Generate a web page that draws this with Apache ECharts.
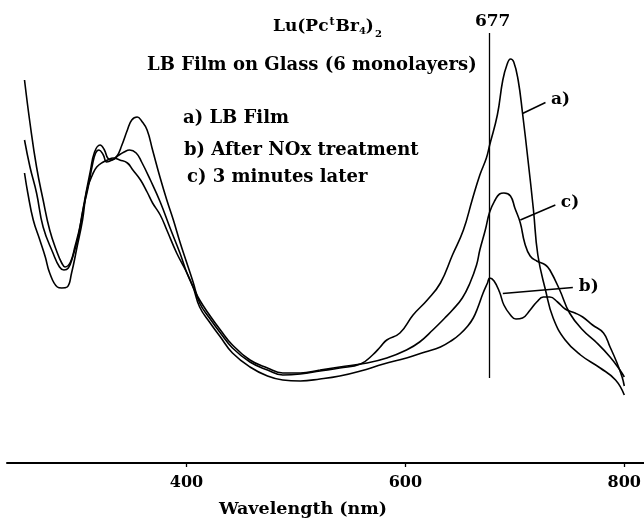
<html>
<head>
    <meta charset="utf-8">
    <title>Lu(PctBr4)2 LB film spectra</title>
    <style type="text/css">
        body { margin: 0; background: #fff; }
        #chart { width: 644px; height: 519px; }
    </style>
</head>
<body>
    <div id="chart"></div>
</body>
</html>

<script src="https://cdn.jsdelivr.net/npm/echarts@6/dist/echarts.min.js"></script>
<script>

    // [wavelength nm, absorbance]
    var lbFilm = [
        [252, 0.766], [257, 0.680], [263, 0.592], [269, 0.526], [275, 0.466], [282, 0.420],
        [286, 0.400], [289, 0.392], [294, 0.402], [298, 0.432], [303, 0.476], [307, 0.526],
        [312, 0.582], [316, 0.622], [321, 0.636], [325, 0.626], [328, 0.610], [331, 0.606],
        [336, 0.612], [341, 0.636], [346, 0.666], [350, 0.686], [355, 0.692], [359, 0.684],
        [364, 0.666], [369, 0.626], [376, 0.570], [382, 0.526], [388, 0.486], [394, 0.442],
        [400, 0.402], [406, 0.362], [412, 0.320], [421, 0.290], [431, 0.260], [442, 0.230],
        [458, 0.202], [474, 0.186], [488, 0.176], [504, 0.178], [522, 0.184], [540, 0.190],
        [559, 0.198], [570, 0.216], [577, 0.232], [583, 0.246], [595, 0.260], [607, 0.296],
        [620, 0.326], [632, 0.360], [643, 0.416], [653, 0.466], [661, 0.526], [668, 0.576],
        [674, 0.610], [677, 0.636], [684, 0.696], [689, 0.766], [693, 0.798], [696, 0.808],
        [699, 0.802], [703, 0.766], [707, 0.700], [712, 0.606], [717, 0.506], [721, 0.416],
        [728, 0.346], [735, 0.290], [746, 0.246], [760, 0.216], [778, 0.190], [792, 0.166],
        [800, 0.136]
    ];

    var afterNOx = [
        [252, 0.580], [255, 0.540], [260, 0.486], [266, 0.446], [271, 0.412], [275, 0.380],
        [282, 0.352], [286, 0.350], [291, 0.352], [295, 0.380], [300, 0.432], [305, 0.486],
        [309, 0.546], [314, 0.576], [318, 0.592], [324, 0.602], [328, 0.606], [333, 0.610],
        [339, 0.606], [346, 0.600], [351, 0.586], [358, 0.566], [364, 0.542], [369, 0.520],
        [376, 0.496], [382, 0.466], [391, 0.420], [400, 0.382], [406, 0.352], [412, 0.312],
        [421, 0.282], [431, 0.252], [442, 0.220], [458, 0.192], [474, 0.174], [488, 0.166],
        [504, 0.164], [522, 0.168], [540, 0.174], [559, 0.184], [580, 0.198], [601, 0.210],
        [618, 0.222], [632, 0.232], [643, 0.246], [650, 0.258], [657, 0.274], [662, 0.290],
        [666, 0.310], [671, 0.340], [675, 0.360], [677, 0.370], [681, 0.364], [686, 0.342],
        [690, 0.316], [696, 0.296], [701, 0.288], [707, 0.290], [714, 0.306], [720, 0.322],
        [726, 0.332], [732, 0.332], [739, 0.322], [746, 0.308], [755, 0.300], [762, 0.292],
        [771, 0.276], [781, 0.260], [787, 0.232], [793, 0.202], [798, 0.172], [800, 0.154]
    ];

    var threeMinLater = [
        [252, 0.646], [257, 0.592], [263, 0.540], [269, 0.472], [278, 0.420], [284, 0.392],
        [288, 0.386], [292, 0.390], [296, 0.412], [301, 0.452], [305, 0.502], [310, 0.550],
        [314, 0.596], [317, 0.620], [320, 0.626], [324, 0.616], [327, 0.602], [332, 0.606],
        [337, 0.614], [343, 0.622], [348, 0.626], [354, 0.620], [359, 0.602], [367, 0.566],
        [376, 0.522], [385, 0.470], [394, 0.420], [400, 0.382], [406, 0.352], [412, 0.326],
        [421, 0.296], [431, 0.266], [442, 0.236], [458, 0.206], [474, 0.190], [488, 0.180],
        [504, 0.180], [522, 0.186], [540, 0.192], [565, 0.200], [583, 0.210], [601, 0.226],
        [613, 0.242], [625, 0.266], [636, 0.290], [643, 0.306], [652, 0.330], [659, 0.360],
        [665, 0.396], [668, 0.426], [673, 0.466], [677, 0.502], [682, 0.526], [686, 0.538],
        [690, 0.540], [696, 0.534], [700, 0.510], [705, 0.480], [709, 0.440], [714, 0.414],
        [720, 0.404], [728, 0.396], [732, 0.386], [741, 0.346], [750, 0.300], [762, 0.266],
        [775, 0.240], [787, 0.212], [796, 0.186], [800, 0.172]
    ];

    var tickValues = [400, 600, 800];
    var markerNm = 677;
    var markerSpan = [0.17, 0.86];

    // label leader lines: [from, to] in data units
    var leaderA = [[707, 0.699], [728, 0.721]];
    var leaderB = [[689, 0.339], [753, 0.351]];
    var leaderC = [[705, 0.486], [737, 0.516]];

    var FONT = 'DejaVu Serif';
    var TEXT_FONT = 'bold 18px "DejaVu Serif"';

    function leader(pts, text) {
        return {
            silent: true,
            symbol: ['none', 'none'],
            lineStyle: { color: '#000', width: 1.5, type: 'solid' },
            label: {
                show: true, position: 'end', distance: 6, formatter: text,
                color: '#000', fontFamily: FONT, fontWeight: 'bold', fontSize: 17
            },
            data: [[{ coord: pts[0] }, { coord: pts[1] }]]
        };
    }

    function spectrum(data, extra) {
        var s = {
            type: 'line',
            data: data,
            smooth: 0.45,
            showSymbol: false,
            symbol: 'none',
            lineStyle: { color: '#000', width: 1.6 },
            z: 3
        };
        if (extra) s.markLine = extra;
        return s;
    }

    var chart = echarts.init(document.getElementById('chart'));

    var markerLine = {
        silent: true,
        symbol: ['none', 'none'],
        lineStyle: { color: '#000', width: 1.3, type: 'solid' },
        label: {
            show: true, position: 'end', distance: 3, offset: [3, 0], formatter: String(markerNm),
            color: '#000', fontFamily: FONT, fontWeight: 'bold', fontSize: 17
        },
        data: [[{ coord: [markerNm, markerSpan[0]] }, { coord: [markerNm, markerSpan[1]] }]]
    };

    var option = {
        animation: false,
        backgroundColor: '#fff',
        grid: { left: 7, right: 0, top: 13, bottom: 56 },
        xAxis: {
            type: 'value',
            min: 236,
            max: 818,
            axisLine: { show: true, lineStyle: { color: '#000', width: 2 } },
            axisTick: { show: true, length: 4, customValues: tickValues, lineStyle: { color: '#000', width: 1.3 } },
            axisLabel: {
                customValues: tickValues, margin: 12,
                color: '#000', fontFamily: FONT, fontWeight: 'bold', fontSize: 16
            },
            splitLine: { show: false }
        },
        yAxis: {
            type: 'value', min: 0, max: 0.9, show: false
        },
        series: [
            spectrum(lbFilm, leader(leaderA, 'a)')),
            spectrum(afterNOx, leader(leaderB, 'b)')),
            spectrum(threeMinLater, leader(leaderC, 'c)')),
            { type: 'line', data: [], markLine: markerLine }
        ],
        graphic: [
            {
                type: 'text', x: 273, y: 27,
                style: {
                    text: '{m|Lu(Pc}{sup|t}{m|Br}{sub|4}{m|)}{sub2|2}',
                    verticalAlign: 'middle',
                    rich: {
                        m: { fontFamily: FONT, fontWeight: 'bold', fontSize: 17, fill: '#000' },
                        sup: { fontFamily: FONT, fontWeight: 'bold', fontSize: 11, fill: '#000', padding: [0, 1, 10, 1] },
                        sub: { fontFamily: FONT, fontWeight: 'bold', fontSize: 10, fill: '#000', padding: [8, 0, 0, 0] },
                        sub2: { fontFamily: FONT, fontWeight: 'bold', fontSize: 10, fill: '#000', padding: [14, 0, 0, 1] }
                    }
                }
            },
            {
                type: 'text', x: 147, y: 65,
                style: { text: 'LB Film on Glass (6 monolayers)', verticalAlign: 'middle', fill: '#000', font: TEXT_FONT }
            },
            {
                type: 'text', x: 183, y: 118,
                style: { text: 'a) LB Film', verticalAlign: 'middle', fill: '#000', font: TEXT_FONT }
            },
            {
                type: 'text', x: 184, y: 150,
                style: { text: 'b) After NOx treatment', verticalAlign: 'middle', fill: '#000', font: TEXT_FONT }
            },
            {
                type: 'text', x: 187, y: 177,
                style: { text: 'c) 3 minutes later', verticalAlign: 'middle', fill: '#000', font: TEXT_FONT }
            },
            {
                type: 'text', x: 303, y: 509,
                style: { text: 'Wavelength (nm)', align: 'center', verticalAlign: 'middle', fill: '#000', font: 'bold 17.5px "DejaVu Serif"' }
            }
        ]
    };

    chart.setOption(option);

</script>
